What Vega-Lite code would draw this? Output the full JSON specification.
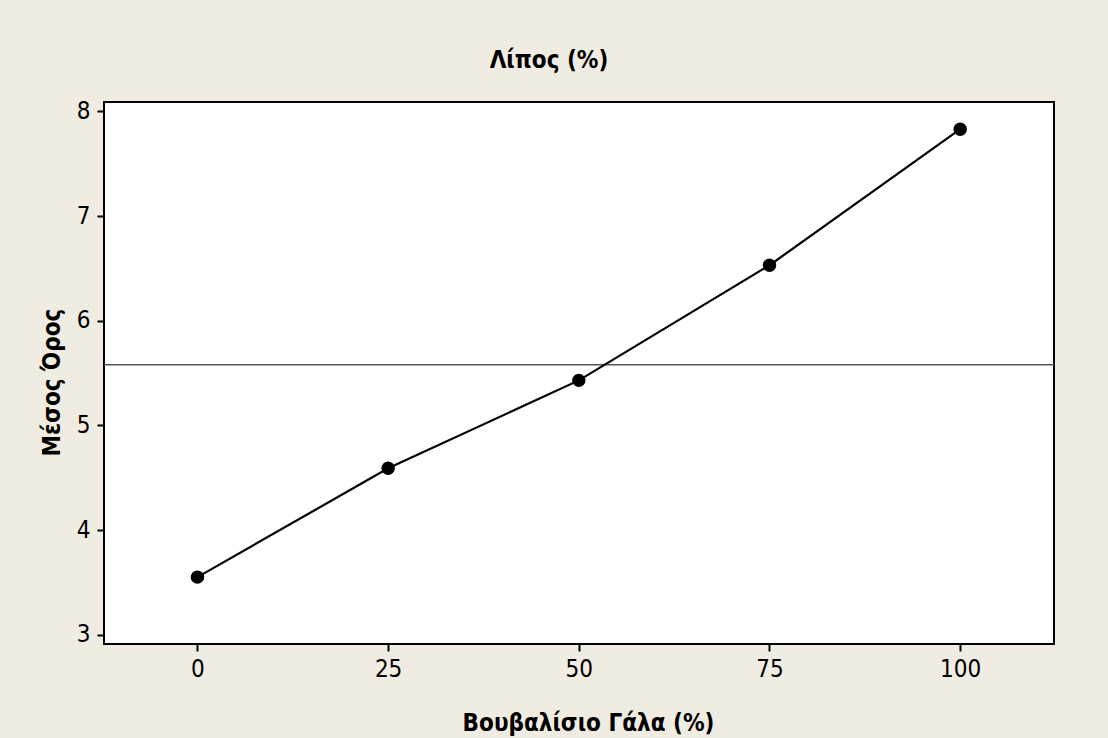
{
  "$schema": "https://vega.github.io/schema/vega-lite/v6.json",
  "width": 950,
  "height": 542,
  "autosize": {"type": "none"},
  "padding": {"left": 104, "top": 102, "right": 54, "bottom": 94},
  "background": "#F0ECE2",
  "title": {
    "text": "Λίπος (%)",
    "font": "DejaVu Sans Condensed",
    "fontSize": 24,
    "fontWeight": "bold",
    "color": "black",
    "offset": 26,
    "dx": -30
  },
  "config": {
    "view": {"stroke": "black", "strokeWidth": 2, "fill": "white"},
    "axis": {
      "grid": false,
      "domain": false,
      "tickColor": "black",
      "tickWidth": 2,
      "tickSize": 7,
      "labelColor": "black",
      "labelFont": "DejaVu Sans Condensed",
      "labelFontSize": 24,
      "titleFont": "DejaVu Sans Condensed",
      "titleFontSize": 24,
      "titleFontWeight": "bold",
      "titleColor": "black"
    }
  },
  "datasets": {
    "pts": [
      {"buffalo": 0, "fat": 3.55},
      {"buffalo": 25, "fat": 4.59},
      {"buffalo": 50, "fat": 5.43},
      {"buffalo": 75, "fat": 6.53},
      {"buffalo": 100, "fat": 7.83}
    ],
    "ref": [{"mean": 5.58}]
  },
  "layer": [
    {
      "data": {"name": "ref"},
      "mark": {"type": "rule", "color": "#555555", "strokeWidth": 1.5},
      "encoding": {
        "y": {"field": "mean", "type": "quantitative", "scale": {"domain": [2.911, 8.09], "nice": false, "zero": false}}
      }
    },
    {
      "data": {"name": "pts"},
      "mark": {"type": "line", "color": "black", "strokeWidth": 2.2},
      "encoding": {
        "x": {
          "field": "buffalo", "type": "quantitative",
          "title": "Βουβαλίσιο Γάλα (%)",
          "scale": {"domain": [-12.25, 112.3], "nice": false, "zero": false},
          "axis": {"values": [0, 25, 50, 75, 100], "format": "d", "labelPadding": 6, "titlePadding": 30, "titleX": 484}
        },
        "y": {
          "field": "fat", "type": "quantitative",
          "title": "Μέσος Όρος",
          "scale": {"domain": [2.911, 8.09], "nice": false, "zero": false},
          "axis": {"values": [3, 4, 5, 6, 7, 8], "format": "d", "labelPadding": 7, "titlePadding": 12, "titleY": 280}
        }
      }
    },
    {
      "data": {"name": "pts"},
      "mark": {"type": "point", "filled": true, "color": "black", "opacity": 1, "size": 180},
      "encoding": {
        "x": {"field": "buffalo", "type": "quantitative"},
        "y": {"field": "fat", "type": "quantitative"}
      }
    }
  ]
}
